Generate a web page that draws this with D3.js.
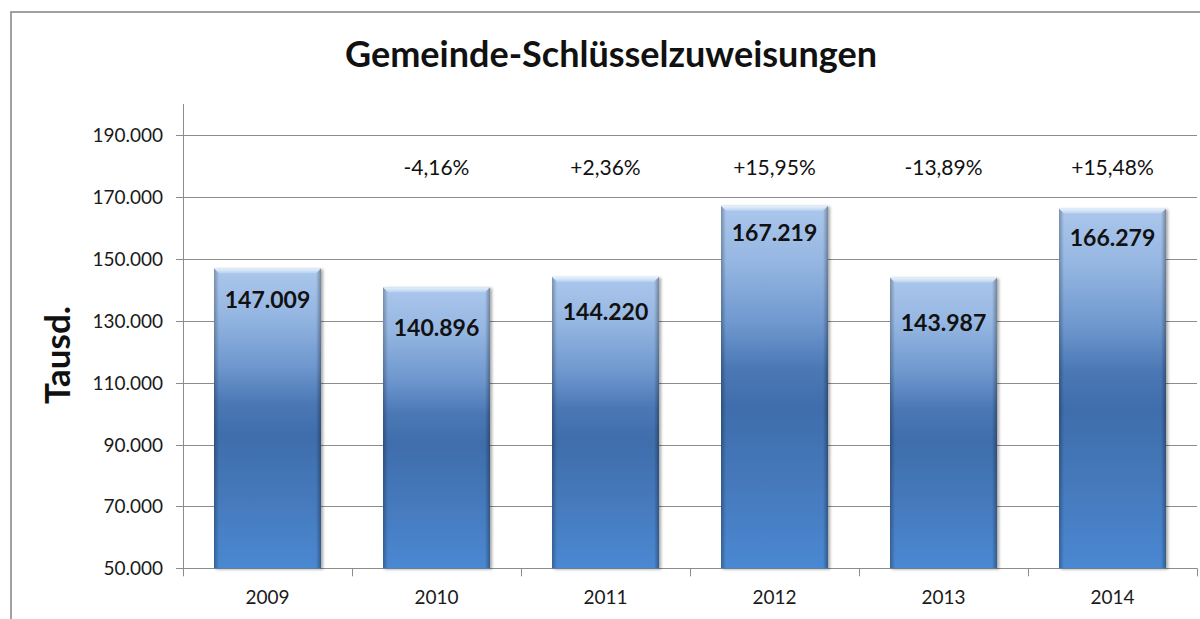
<!DOCTYPE html>
<html>
<head>
<meta charset="utf-8">
<script src="https://cdn.jsdelivr.net/npm/d3@7/dist/d3.min.js"></script>
<style>
  html, body { margin: 0; padding: 0; background: #fff; }
  svg { display: block; font-family: Lato, "Open Sans", sans-serif; }
</style>
</head>
<body>
<svg id="chart" width="1200" height="619"></svg>
<script>
// ---- data ----
const years = ["2009", "2010", "2011", "2012", "2013", "2014"];
const values = [147009, 140896, 144220, 167219, 143987, 166279];
const valueLabels = ["147.009", "140.896", "144.220", "167.219", "143.987", "166.279"];
const changeLabels = ["", "-4,16%", "+2,36%", "+15,95%", "-13,89%", "+15,48%"];
const yTicks = [50000, 70000, 90000, 110000, 130000, 150000, 170000, 190000];
const yTickLabels = ["50.000", "70.000", "90.000", "110.000", "130.000", "150.000", "170.000", "190.000"];
const titleText = "Gemeinde-Schlüsselzuweisungen";
const yAxisTitle = "Tausd.";

// ---- layout ----
const W = 1200, H = 619;
const plot = { left: 183, right: 1197, top: 104.3, bottom: 568.3 };
const labelDy = [40, 49, 43, 35, 53, 37]; // baseline offset below bar top (as placed in original)

const svg = d3.select("#chart");
const defs = svg.append("defs");

const grad = defs.append("linearGradient").attr("id", "barGrad")
  .attr("x1", 0).attr("y1", 0).attr("x2", 0).attr("y2", 1);
[[0, "#abc7ec"], [0.15, "#96b7e2"], [0.32, "#7099cf"], [0.45, "#4b78b5"], [0.56, "#3f6dab"], [0.75, "#4578ba"], [1, "#4a88d2"]]
  .forEach(([o, c]) => grad.append("stop").attr("offset", o).attr("stop-color", c));

const sideL = defs.append("linearGradient").attr("id", "sideL")
  .attr("x1", 0).attr("y1", 0).attr("x2", 1).attr("y2", 0);
sideL.append("stop").attr("offset", 0).attr("stop-color", "#000").attr("stop-opacity", 0.28);
sideL.append("stop").attr("offset", 1).attr("stop-color", "#000").attr("stop-opacity", 0.0);
const sideR = defs.append("linearGradient").attr("id", "sideR")
  .attr("x1", 1).attr("y1", 0).attr("x2", 0).attr("y2", 0);
sideR.append("stop").attr("offset", 0).attr("stop-color", "#000").attr("stop-opacity", 0.32);
sideR.append("stop").attr("offset", 1).attr("stop-color", "#000").attr("stop-opacity", 0.0);
const topG = defs.append("linearGradient").attr("id", "topG")
  .attr("x1", 0).attr("y1", 0).attr("x2", 0).attr("y2", 1);
topG.append("stop").attr("offset", 0).attr("stop-color", "#e8f2fd");
topG.append("stop").attr("offset", 1).attr("stop-color", "#b9d2f0");

const shadow = defs.append("filter").attr("id", "shadow")
  .attr("x", "-10%").attr("y", "-10%").attr("width", "130%").attr("height", "120%");
shadow.append("feDropShadow").attr("dx", 2).attr("dy", 1).attr("stdDeviation", 1.6)
  .attr("flood-color", "#000").attr("flood-opacity", 0.35);

// outer frame
svg.append("rect").attr("x", 11).attr("y", 12).attr("width", W + 20).attr("height", H + 20)
  .attr("fill", "none").attr("stroke", "#8a8a8a").attr("stroke-width", 1.6);

// scales
const x = d3.scaleBand().domain(years).range([plot.left, plot.right]).paddingInner(0.367).paddingOuter(0.1835);
const y = d3.scaleLinear().domain([50000, 200000]).range([plot.bottom, plot.top]);

// gridlines (with left tick stubs)
svg.append("g").selectAll("line").data(yTicks).join("line")
  .attr("x1", plot.left - 7).attr("x2", plot.right)
  .attr("y1", d => Math.round(y(d)) + 0.5).attr("y2", d => Math.round(y(d)) + 0.5)
  .attr("stroke", "#8c8c8c").attr("stroke-width", 1);

// y tick labels
svg.append("g").selectAll("text").data(yTicks).join("text")
  .attr("x", 163).attr("y", d => y(d) + 7)
  .attr("text-anchor", "end").attr("font-size", 19).attr("fill", "#1a1a1a")
  .text((d, i) => yTickLabels[i]);

// y axis line
svg.append("line").attr("x1", plot.left + 0.5).attr("x2", plot.left + 0.5)
  .attr("y1", Math.round(plot.top)).attr("y2", plot.bottom)
  .attr("stroke", "#8c8c8c").attr("stroke-width", 1);

// x axis line + ticks at category boundaries
svg.append("line").attr("x1", plot.left).attr("x2", plot.right)
  .attr("y1", Math.round(plot.bottom) + 0.5).attr("y2", Math.round(plot.bottom) + 0.5)
  .attr("stroke", "#8c8c8c");
const boundaries = d3.range(years.length + 1).map(i => plot.left + i * (plot.right - plot.left) / years.length);
svg.append("g").selectAll("line").data(boundaries).join("line")
  .attr("x1", d => Math.round(d) + 0.5).attr("x2", d => Math.round(d) + 0.5)
  .attr("y1", plot.bottom).attr("y2", plot.bottom + 8)
  .attr("stroke", "#8c8c8c");

// x labels
svg.append("g").selectAll("text").data(years).join("text")
  .attr("x", d => x(d) + x.bandwidth() / 2).attr("y", 604)
  .attr("text-anchor", "middle").attr("font-size", 19).attr("fill", "#1a1a1a")
  .text(d => d);

// bars
const bars = svg.append("g").selectAll("g").data(values).join("g");
bars.append("rect")
  .attr("x", (d, i) => x(years[i])).attr("width", x.bandwidth())
  .attr("y", d => y(d)).attr("height", d => y(50000) - y(d))
  .attr("fill", "url(#barGrad)").attr("filter", "url(#shadow)");
// side bevels
const bev = 5;
bars.append("polygon").attr("fill", "url(#sideL)")
  .attr("points", (d, i) => {
    const x0 = x(years[i]), t = y(d), b = y(50000);
    return [[x0, t], [x0 + bev, t + bev], [x0 + bev, b], [x0, b]].join(" ");
  });
bars.append("polygon").attr("fill", "url(#sideR)")
  .attr("points", (d, i) => {
    const x1 = x(years[i]) + x.bandwidth(), t = y(d), b = y(50000);
    return [[x1, t], [x1 - bev, t + bev], [x1 - bev, b], [x1, b]].join(" ");
  });
bars.append("polygon").attr("fill", "url(#topG)")
  .attr("points", (d, i) => {
    const x0 = x(years[i]), x1 = x0 + x.bandwidth(), t = y(d);
    return [[x0, t], [x1, t], [x1 - bev, t + bev], [x0 + bev, t + bev]].join(" ");
  });

// value labels inside bars
bars.append("text")
  .attr("x", (d, i) => x(years[i]) + x.bandwidth() / 2)
  .attr("y", (d, i) => y(d) + labelDy[i])
  .attr("text-anchor", "middle").attr("font-size", 23).attr("font-weight", "bold").attr("fill", "#111")
  .text((d, i) => valueLabels[i]);

// percent change labels
svg.append("g").selectAll("text").data(changeLabels).join("text")
  .attr("x", (d, i) => x(years[i]) + x.bandwidth() / 2).attr("y", 175)
  .attr("text-anchor", "middle").attr("font-size", 21).attr("fill", "#111")
  .text(d => d);

// title
svg.append("text").attr("x", 611).attr("y", 67)
  .attr("text-anchor", "middle").attr("font-size", 36).attr("font-weight", "bold").attr("fill", "#111")
  .text(titleText);

// y axis title
svg.append("text").attr("transform", "translate(70,355) rotate(-90)")
  .attr("text-anchor", "middle").attr("font-size", 35).attr("font-weight", "bold").attr("fill", "#111")
  .text(yAxisTitle);
</script>
</body>
</html>
